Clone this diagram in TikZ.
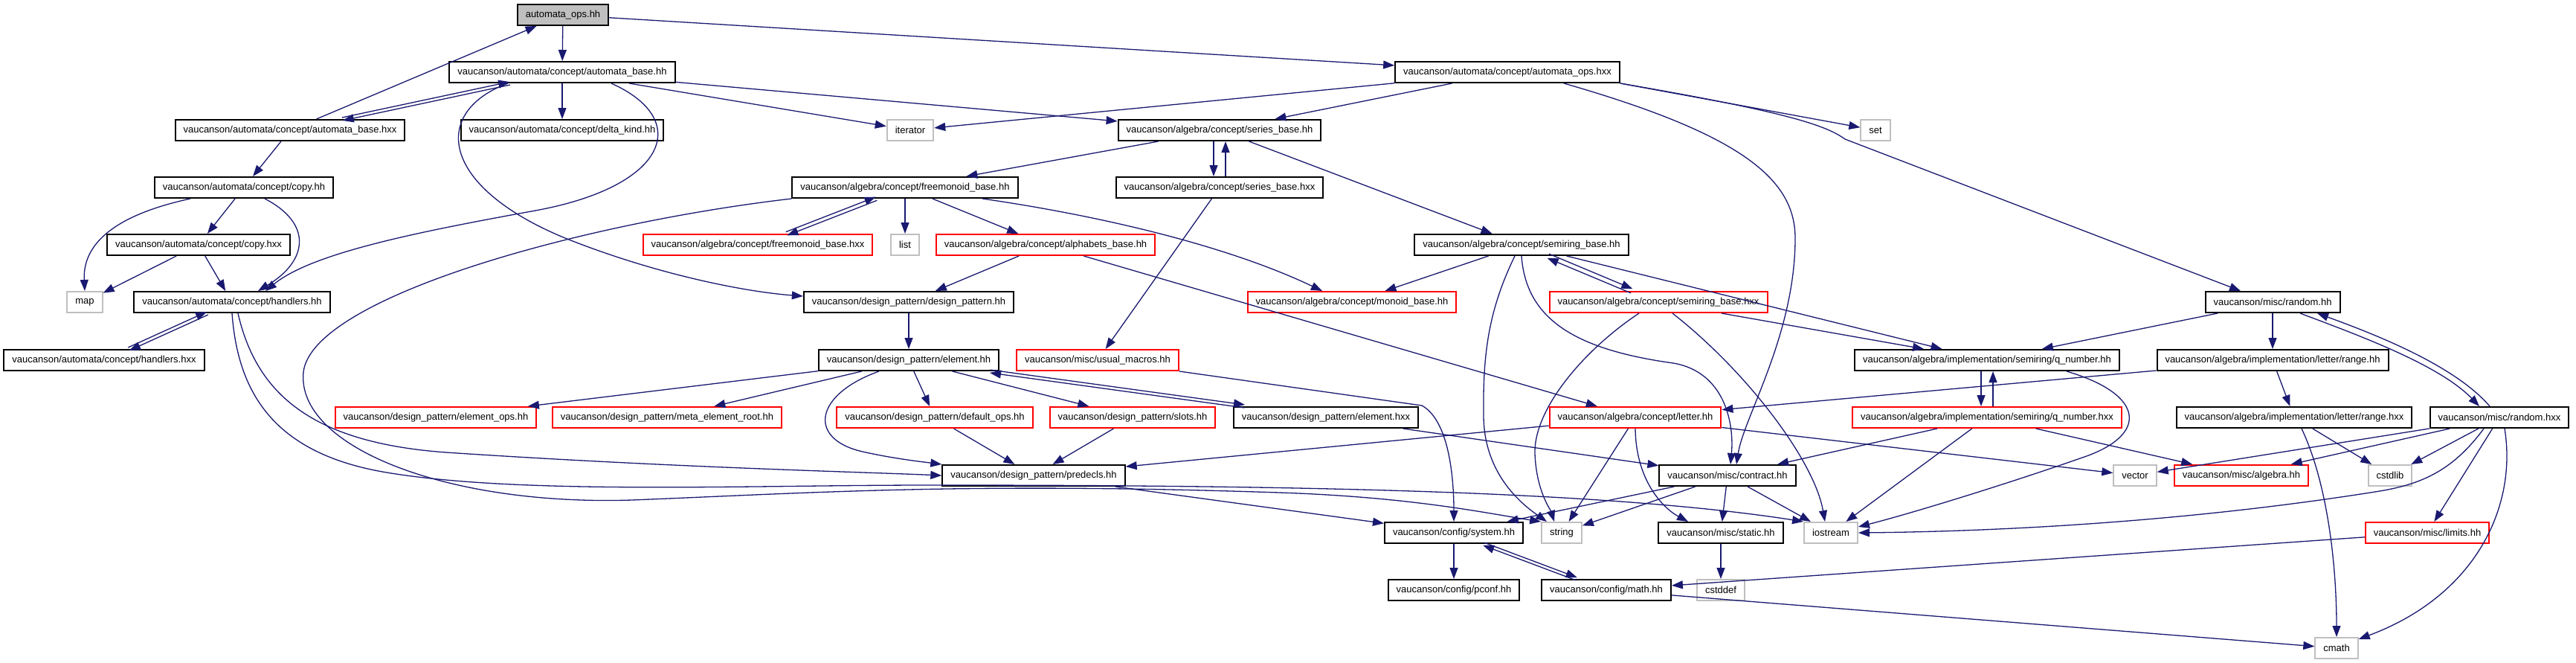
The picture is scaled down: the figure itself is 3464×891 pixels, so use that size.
\documentclass[tikz,border=0pt]{standalone}
\usepackage{fontspec}
\newfontfamily\graphfont{Liberation Sans}
\usetikzlibrary{arrows.meta}
\definecolor{edge blue}{HTML}{191970}
\definecolor{sys gray}{HTML}{BFBFBF}
\colorlet{root fill}{sys gray}
\tikzset{
  header/.style={draw=black, fill=white, line width=2pt, minimum height=28pt,
    inner xsep=11pt, inner ysep=0pt, font=\graphfont\fontsize{13pt}{15pt}\selectfont},
  root/.style={header, fill=root fill},
  undocumented/.style={header, draw=red},
  system header/.style={header, draw=sys gray}
  }
\tikzstyle{include edge} = [draw, edge blue, line width=1.3pt, -{Triangle[length=15pt,width=11pt]}]

\begin{document}
\begin{tikzpicture}[x=1pt, y=-1pt]
    \useasboundingbox (0,0) rectangle (3464,891);

    % the headers, row by row
    \node[root] (aops) at (757,20) {automata\_ops.hh};
    \node[header] (abh) at (756,97) {vaucanson/automata/concept/automata\_base.hh};
    \node[header] (aopsx) at (2027,97) {vaucanson/automata/concept/automata\_ops.hxx};
    \node[header] (abhx) at (390,175) {vaucanson/automata/concept/automata\_base.hxx};
    \node[header] (delta) at (756,175) {vaucanson/automata/concept/delta\_kind.hh};
    \node[system header] (iter) at (1224,175) {iterator};
    \node[header] (serh) at (1640,175) {vaucanson/algebra/concept/series\_base.hh};
    \node[system header] (set) at (2522,175) {set};
    \node[header] (copyh) at (328,252) {vaucanson/automata/concept/copy.hh};
    \node[header] (fmh) at (1217,252) {vaucanson/algebra/concept/freemonoid\_base.hh};
    \node[header] (serx) at (1640,252) {vaucanson/algebra/concept/series\_base.hxx};
    \node[header] (copyx) at (267,329) {vaucanson/automata/concept/copy.hxx};
    \node[undocumented] (fmx) at (1019,329) {vaucanson/algebra/concept/freemonoid\_base.hxx};
    \node[system header] (list) at (1217,329) {list};
    \node[undocumented] (alph) at (1406,329) {vaucanson/algebra/concept/alphabets\_base.hh};
    \node[header] (srh) at (2046,329) {vaucanson/algebra/concept/semiring\_base.hh};
    \node[system header] (map) at (114,406) {map};
    \node[header] (handh) at (312,406) {vaucanson/automata/concept/handlers.hh};
    \node[header] (dph) at (1222,406) {vaucanson/design\_pattern/design\_pattern.hh};
    \node[undocumented] (monoid) at (1818,406) {vaucanson/algebra/concept/monoid\_base.hh};
    \node[undocumented] (srx) at (2230,406) {vaucanson/algebra/concept/semiring\_base.hxx};
    \node[header] (rndh) at (3056,406) {vaucanson/misc/random.hh};
    \node[header] (handx) at (140,484) {vaucanson/automata/concept/handlers.hxx};
    \node[header] (elh) at (1222,484) {vaucanson/design\_pattern/element.hh};
    \node[undocumented] (usual) at (1476,484) {vaucanson/misc/usual\_macros.hh};
    \node[header] (qh) at (2672,484) {vaucanson/algebra/implementation/semiring/q\_number.hh};
    \node[header] (rngh) at (3056,484) {vaucanson/algebra/implementation/letter/range.hh};
    \node[undocumented] (elops) at (586,561) {vaucanson/design\_pattern/element\_ops.hh};
    \node[undocumented] (meta) at (897,561) {vaucanson/design\_pattern/meta\_element\_root.hh};
    \node[undocumented] (defops) at (1257,561) {vaucanson/design\_pattern/default\_ops.hh};
    \node[undocumented] (slots) at (1523,561) {vaucanson/design\_pattern/slots.hh};
    \node[header] (elx) at (1783,561) {vaucanson/design\_pattern/element.hxx};
    \node[undocumented] (letter) at (2199,561) {vaucanson/algebra/concept/letter.hh};
    \node[undocumented] (qx) at (2672,561) {vaucanson/algebra/implementation/semiring/q\_number.hxx};
    \node[header] (rngx) at (3085,561) {vaucanson/algebra/implementation/letter/range.hxx};
    \node[header] (rndx) at (3361,561) {vaucanson/misc/random.hxx};
    \node[header] (pred) at (1390,639) {vaucanson/design\_pattern/predecls.hh};
    \node[header] (contract) at (2323,639) {vaucanson/misc/contract.hh};
    \node[system header] (vector) at (2871,639) {vector};
    \node[undocumented] (algebra) at (3014,639) {vaucanson/misc/algebra.hh};
    \node[system header] (cstdlib) at (3214,639) {cstdlib};
    \node[header] (system) at (1955,716) {vaucanson/config/system.hh};
    \node[system header] (string) at (2100,716) {string};
    \node[header] (static) at (2314,716) {vaucanson/misc/static.hh};
    \node[system header] (iostream) at (2462,716) {iostream};
    \node[undocumented] (limits) at (3264,716) {vaucanson/misc/limits.hh};
    \node[header] (pconf) at (1955,793) {vaucanson/config/pconf.hh};
    \node[header] (math) at (2160,793) {vaucanson/config/math.hh};
    \node[system header] (cstddef) at (2314,793) {cstddef};
    \node[system header] (cmath) at (3142,871) {cmath};

    % straight includes
    \foreach \source/\sink in {aops/abh, aops/aopsx, abhx/aops, abh/delta, abh/iter, abh/serh,
        abhx/copyh, copyh/copyx, copyx/map, copyx/handh, aopsx/iter, aopsx/serh, serh/fmh,
        serh/srh, fmh/list, fmh/alph, serx/usual, alph/dph, alph/letter, srh/monoid, srh/qh,
        srx/qh, dph/elh, elh/elops, elh/meta, elh/defops, elh/slots, elx/contract, defops/pred,
        slots/pred, letter/pred, letter/string, letter/vector, rngh/letter, rndh/qh, rndh/rngh,
        rngh/rngx, rngx/cstdlib, qx/algebra, qx/contract, qx/iostream, rndx/vector,
        rndx/algebra, rndx/cstdlib, rndx/limits, limits/math, math/cmath, pred/system,
        contract/system, contract/string, contract/static, contract/iostream, system/pconf,
        static/cstddef}
      \path[include edge] (\source) -- (\sink);
    \path[include edge] ([xshift=104pt]fmh.south) .. controls (1480,290) and (1650,330) .. ([xshift=-40pt]monoid.north);
    \path[include edge] (aopsx.south east) -- (set);

    % headers that include each other
    \foreach \a/\b/\dx/\dy in {abh/abhx/0.4/-2, handh/handx/0.9/-2, serh/serx/-8/0,
        fmh/fmx/0.9/-2.3, srh/srx/1.2/2.8, elh/elx/0.3/2, qh/qx/-8/0,
        system/math/0.7/1.9} {
      \pgfmathsetmacro\mx{-1*(\dx)}
      \pgfmathsetmacro\my{-1*(\dy)}
      \path[include edge, transform canvas={shift={(\dx pt,\dy pt)}}] (\a) -- (\b);
      \path[include edge, transform canvas={shift={(\mx pt,\my pt)}}] (\b) -- (\a);
    }
    \path[include edge] ([xshift=37pt]rndh.south) .. controls (3170,450) and (3280,490) .. ([xshift=-27pt]rndx.north);
    \path[include edge] ([xshift=-13pt]rndx.north) .. controls (3300,490) and (3190,448) .. ([xshift=60pt]rndh.south);

    % the long bent ones
    \path[include edge] ([xshift=66pt]abh.south) .. controls (930,160) and (900,250) .. (720,283)
        .. controls (560,312) and (420,340) .. ([xshift=45pt]handh.north);
    \path[include edge] ([xshift=-73pt]abh.south) .. controls (580,150) and (590,250) .. (760,320)
        .. controls (880,368) and (1000,392) .. ([yshift=8pt]dph.west);
    \path[include edge] ([xshift=-72pt]copyh.south) .. controls (150,290) and (111,330) .. (map.north);
    \path[include edge] ([xshift=28pt]copyh.south) .. controls (420,300) and (415,350) .. ([xshift=35pt]handh.north);
    \path[include edge] (fmh.south west) .. controls (780,300) and (420,400) .. (408,500)
        .. controls (398,600) and (600,680) .. (850,672) .. controls (1100,662) and (1300,648) .. (1720,662)
        .. controls (1900,668) and (2000,690) .. (string.north west);
    \path[include edge] ([xshift=8pt]handh.south) .. controls (345,530) and (420,595) .. (600,608)
        .. controls (900,628) and (1150,634) .. (pred.west);
    \path[include edge] (handh.south) .. controls (320,530) and (370,610) .. (520,635)
        .. controls (700,665) and (1000,652) .. (1250,652) .. controls (1700,652) and (2150,658) .. (iostream.north west);
    \path[include edge] ([xshift=-9pt]srh.south) .. controls (2000,420) and (1994,480) .. (1995,560)
        .. controls (1996,640) and (2050,680) .. ([xshift=-20pt]string.north);
    \path[include edge] ([xshift=-26pt]srx.south) .. controls (2130,470) and (2062,550) .. (2064,610)
        .. controls (2066,660) and (2085,685) .. ([xshift=-10pt]string.north);
    \path[include edge] ([xshift=19pt]srx.south) .. controls (2350,500) and (2440,620) .. ([xshift=-8pt]iostream.north);
    \path[include edge] (srh.south) .. controls (2052,430) and (2120,470) .. (2250,488)
        .. controls (2320,500) and (2332,570) .. ([xshift=4pt]contract.north);
    \path[include edge] ([xshift=76pt]aopsx.south) .. controls (2340,180) and (2414,240) .. (2414,320)
        .. controls (2414,450) and (2345,560) .. ([xshift=12pt]contract.north);
    \path[include edge] (aopsx.south east) .. controls (2400,150) and (2455,168) .. (2481,187)
        -- ([xshift=-43pt]rndh.north);
    \path[include edge] ([xshift=-40pt]elh.south) .. controls (1095,530) and (1085,590) .. (1160,607)
        .. controls (1200,616) and (1235,620) .. (pred.north west);
    \path[include edge] (usual.south east) -- (1912,545) .. controls (1948,565) and (1955,640) .. (system.north);
    \path[include edge] (letter.south) .. controls (2200,650) and (2240,685) .. ([xshift=-44pt]static.north);
    \path[include edge] ([xshift=107pt]qh.south) .. controls (2885,530) and (2890,585) .. (2800,615)
        .. controls (2700,650) and (2570,690) .. ([yshift=8pt]iostream.east);
    \path[include edge] ([xshift=-21pt]rndx.south) .. controls (3300,630) and (3260,650) .. (3200,660)
        .. controls (2950,700) and (2700,714) .. (iostream.east);
    \path[include edge] ([xshift=7pt]rndx.south) .. controls (3385,680) and (3330,800) .. ([yshift=-3pt]cmath.north east);
    \path[include edge] ([xshift=10pt]rngx.south) .. controls (3130,650) and (3142,760) .. (cmath.north);

\end{tikzpicture}
\end{document}
